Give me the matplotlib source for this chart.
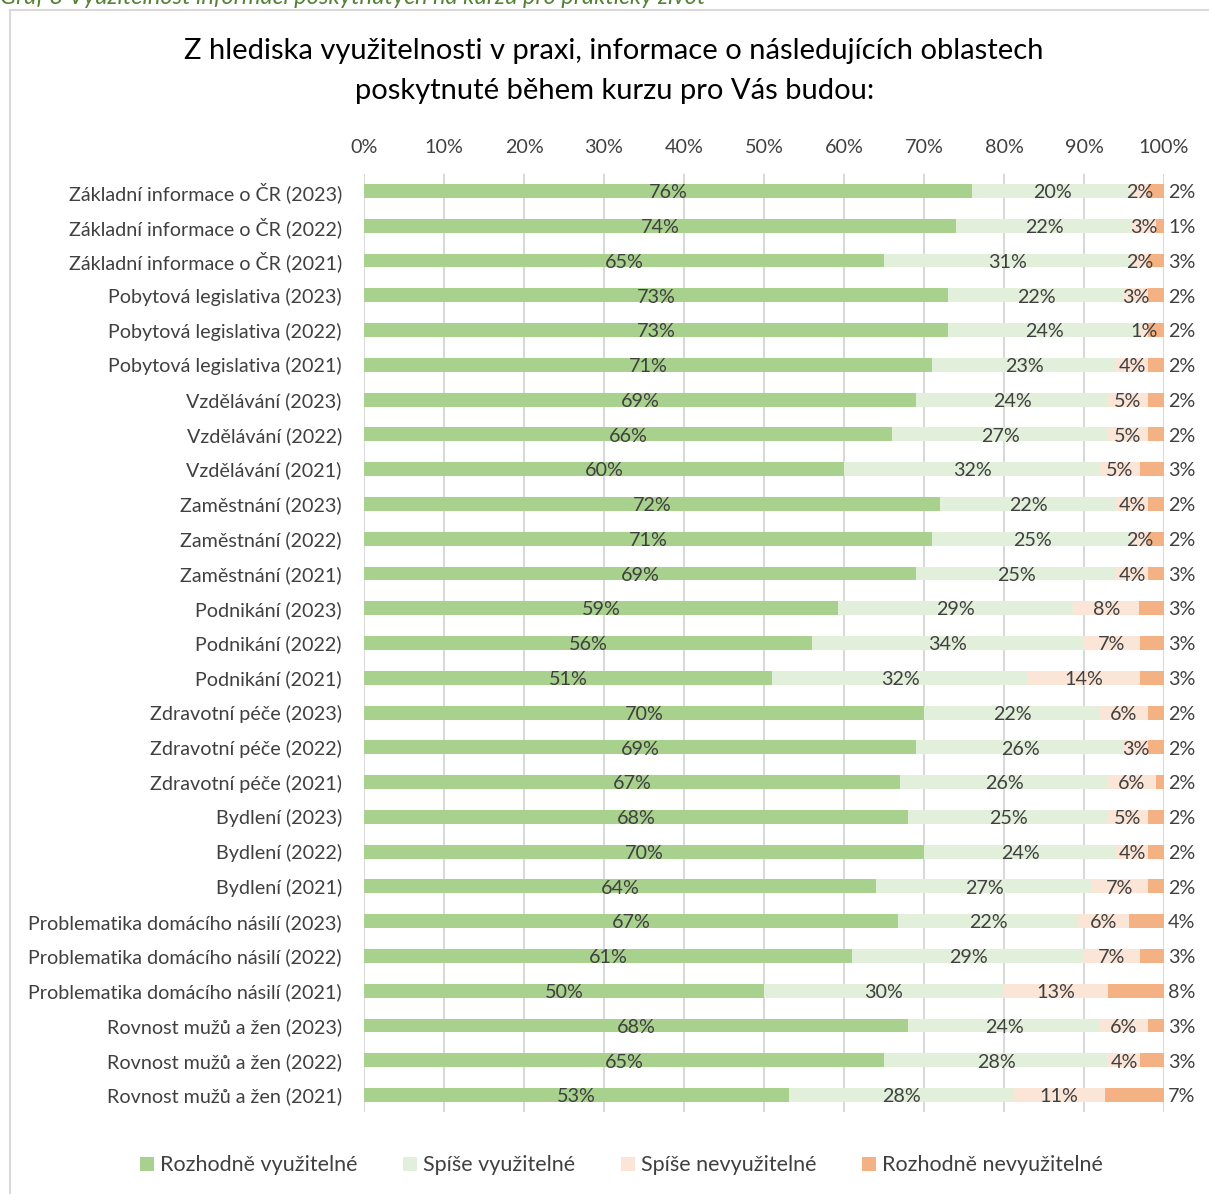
import matplotlib.pyplot as plt
from matplotlib.patches import Rectangle
import numpy as np

plt.rcParams['font.family'] = ['Lato', 'DejaVu Sans']

categories = [
    "Základní informace o ČR (2023)", "Základní informace o ČR (2022)", "Základní informace o ČR (2021)",
    "Pobytová legislativa (2023)", "Pobytová legislativa (2022)", "Pobytová legislativa (2021)",
    "Vzdělávání (2023)", "Vzdělávání (2022)", "Vzdělávání (2021)",
    "Zaměstnání (2023)", "Zaměstnání (2022)", "Zaměstnání (2021)",
    "Podnikání (2023)", "Podnikání (2022)", "Podnikání (2021)",
    "Zdravotní péče (2023)", "Zdravotní péče (2022)", "Zdravotní péče (2021)",
    "Bydlení (2023)", "Bydlení (2022)", "Bydlení (2021)",
    "Problematika domácího násilí (2023)", "Problematika domácího násilí (2022)",
    "Problematika domácího násilí (2021)",
    "Rovnost mužů a žen (2023)", "Rovnost mužů a žen (2022)", "Rovnost mužů a žen (2021)",
]
rozhodne_vyuz = [76, 74, 65, 73, 73, 71, 69, 66, 60, 72, 71, 69, 59.25, 56, 51, 70, 69, 67, 68, 70, 64, 66.8, 61, 50, 68, 65, 53.1]
spise_vyuz = [20, 22, 31, 22, 24, 23, 24, 27, 32, 22, 25, 25, 29.4, 34, 32, 22, 26, 26, 25, 24, 27, 22.4, 29, 30, 24, 28, 28.1]
spise_nevyuz = [2, 3, 2, 3, 1, 4, 5, 5, 5, 4, 2, 4, 8.25, 7, 14, 6, 3, 6, 5, 4, 7, 6.4, 7, 13, 6, 4, 11.4]
rozhodne_nevyuz = [2, 1, 3, 2, 2, 2, 2, 2, 3, 2, 2, 3, 3.1, 3, 3, 2, 2, 2, 2, 2, 2, 4.4, 3, 8, 3, 3, 7.4]

series = [
    ("Rozhodně využitelné", rozhodne_vyuz, "#A9D18E"),
    ("Spíše využitelné", spise_vyuz, "#E2EFDA"),
    ("Spíše nevyužitelné", spise_nevyuz, "#FBE5D6"),
    ("Rozhodně nevyužitelné", rozhodne_nevyuz, "#F4B183"),
]
text_color = "#404040"
fs = 14.2

fig = plt.figure(figsize=(12.09, 11.94), dpi=100)
ax = fig.add_axes([0.3011, 0.0683, 0.6617, 0.7863])

y = np.arange(len(categories))
left = np.zeros(len(categories))
for idx, (name, vals, col) in enumerate(series):
    vals = np.array(vals, dtype=float)
    ax.barh(y, vals, left=left, height=0.4, color=col, label=name, zorder=2)
    for i, v in enumerate(vals):
        if idx < 3:
            ax.text(left[i] + v / 2, y[i] + 0.05, f"{round(v)}%", ha="center", va="center",
                    fontsize=fs, color=text_color, zorder=3)
        else:
            ax.text(100.5, y[i] + 0.05, f"{round(v)}%", ha="left", va="center",
                    fontsize=fs, color=text_color, clip_on=False, zorder=3)
    left += vals

ax.set_xlim(0, 100)
ax.set_ylim(len(categories) - 0.5, -0.5)
ax.set_yticks(y)
ax.set_yticklabels(categories, fontsize=fs, color=text_color)
ax.set_xticks(np.arange(0, 101, 10))
ax.set_xticklabels([f"{t}%" for t in range(0, 101, 10)], fontsize=fs, color=text_color)
ax.xaxis.tick_top()
ax.tick_params(axis="x", length=0, pad=13)
ax.tick_params(axis="y", length=0, pad=16)
ax.grid(axis="x", color="#D9D9D9", linewidth=1.5, zorder=0)
for s in ax.spines.values():
    s.set_visible(False)

fig.text(0.508, 0.957, "Z hlediska využitelnosti v praxi, informace o následujících oblastech",
         ha="center", va="center", fontsize=21, color="#000000")
fig.text(0.508, 0.924, "poskytnuté během kurzu pro Vás budou:",
         ha="center", va="center", fontsize=21, color="#000000")

fig.text(0.0, 1 - 4 / 1194, "Graf 8 Využitelnost informací poskytnutých na kurzu pro praktický život",
         ha="left", va="baseline", fontsize=17, style="italic", color="#548235")

fig.patches.append(Rectangle((10 / 1209, -0.01), 1.02, 1 - 10 / 1194 + 0.01,
                             transform=fig.transFigure, fill=False,
                             edgecolor="#D9D9D9", linewidth=1.5))

leg = fig.legend(loc="center", bbox_to_anchor=(0.514, 0.024), ncol=4, frameon=False,
                 fontsize=15.5, handlelength=0.65, handleheight=0.65, handletextpad=0.3,
                 columnspacing=2.1)
for t in leg.get_texts():
    t.set_color(text_color)

fig.savefig("out.png", dpi=100)
